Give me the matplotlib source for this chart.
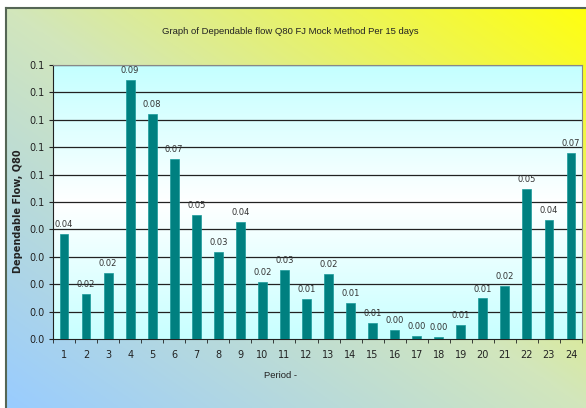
import numpy as np
import matplotlib
matplotlib.use("Agg")
import matplotlib.pyplot as plt
from matplotlib.colors import LinearSegmentedColormap
from matplotlib.ticker import FormatStrFormatter, FixedLocator

# Data
periods = list(range(1, 25))
flow_q80 = [0.0382, 0.0163, 0.0241, 0.0945, 0.0820, 0.0656, 0.0452, 0.0318,
            0.0426, 0.0209, 0.0252, 0.0146, 0.0236, 0.0131, 0.0057, 0.0032,
            0.0011, 0.0006, 0.0051, 0.0148, 0.0193, 0.0548, 0.0434, 0.0680]
y_ticks = [i / 100 for i in range(11)]

title = "Graph of Dependable flow Q80 FJ Mock Method Per 15 days"
x_label = "Period -"
y_label = "Dependable Flow, Q80"

W, H = 586, 408
fig = plt.figure(figsize=(W / 100, H / 100), dpi=100)
fig.patch.set_facecolor("white")

# chart area background: diagonal gradient blue (bottom-left) -> yellow (top-right)
bg = fig.add_axes([6 / W, 0, 1 - 6 / W, 1 - 8 / H])
bg_cmap = LinearSegmentedColormap.from_list("bg", ["#99ccff", "#d2e6bc", "#ffff10"])
gx, gy = np.meshgrid(np.linspace(0, 1, 300), np.linspace(0, 1, 300))
bg.imshow((gx + gy) / 2, cmap=bg_cmap, origin="lower", extent=[0, 1, 0, 1], aspect="auto")
bg.set_xlim(0, 1)
bg.set_ylim(0, 1)
bg.set_xticks([])
bg.set_yticks([])
for side in ["right", "bottom"]:
    bg.spines[side].set_visible(False)
for side in ["left", "top"]:
    bg.spines[side].set_color("#556655")
    bg.spines[side].set_linewidth(1.5)

# plot area
left, right, top, bottom = 53, 582, 65, 339
ax = fig.add_axes([left / W, 1 - bottom / H, (right - left) / W, (bottom - top) / H])
ax.set_facecolor("none")
pa_cmap = LinearSegmentedColormap.from_list("pa", ["#c8ffff", "#ffffff", "#c4ffff"])
ax.imshow(np.linspace(0, 1, 200).reshape(-1, 1), cmap=pa_cmap, aspect="auto",
          extent=[0.5, 24.5, 0, 0.1], origin="lower", zorder=0)

ax.bar(periods, flow_q80, width=0.4, color="#008080", edgecolor="#1a9a9a",
       linewidth=0.5, zorder=3)
for p, v in zip(periods, flow_q80):
    ax.text(p, v + 0.0018, "%.2f" % v, ha="center", va="bottom",
            fontsize=6, color="#333333", zorder=4)

ax.set_xlim(0.5, 24.5)
ax.set_ylim(0, 0.1)
ax.set_yticks(y_ticks)
ax.yaxis.set_major_formatter(FormatStrFormatter("%.1f"))
for t in y_ticks[1:]:
    ax.axhline(t, color="#222222", linewidth=0.9, zorder=1)

ax.set_xticks(periods)
ax.xaxis.set_minor_locator(FixedLocator([p + 0.5 for p in range(0, 25)]))
ax.tick_params(axis="x", which="major", length=0, pad=8, labelsize=7, labelcolor="#222222")
ax.tick_params(axis="x", which="minor", length=3, direction="out", color="#222222")
ax.tick_params(axis="y", length=3, direction="out", pad=3, labelsize=7,
               labelcolor="#222222", color="#222222")

ax.spines["left"].set_color("#222222")
ax.spines["bottom"].set_color("#222222")
ax.spines["top"].set_color("#888888")
ax.spines["right"].set_color("#888888")

fig.text(290 / W, 1 - 31 / H, title, ha="center", va="center", fontsize=6.8,
         family=["Liberation Sans", "DejaVu Sans"], color="#222222")
fig.text(281 / W, 1 - 375 / H, x_label, ha="center", va="center", fontsize=6.8,
         family=["Liberation Sans", "DejaVu Sans"], color="#222222")
fig.text(18 / W, 1 - 211 / H, y_label, ha="center", va="center", rotation=90,
         fontsize=7, fontweight="bold", color="#222222")

fig.savefig("out.png", dpi=100)
